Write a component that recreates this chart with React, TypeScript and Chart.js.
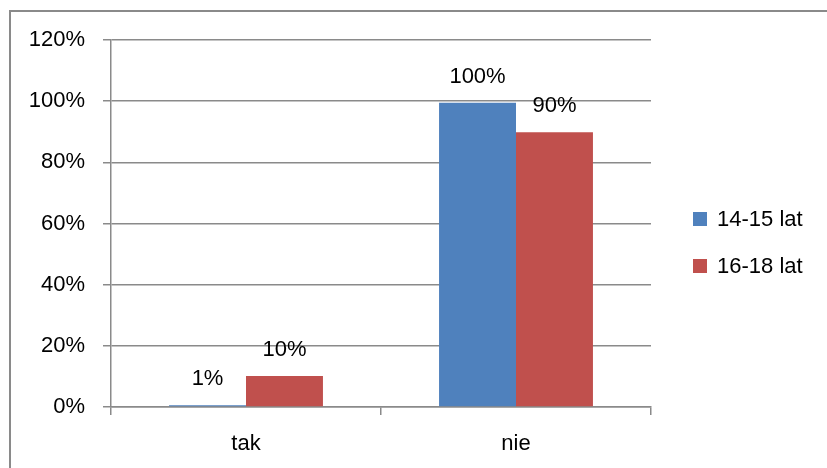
import React, { useEffect, useRef } from "react";
import { Chart, registerables } from "chart.js";

Chart.register(...registerables);

const categories = ["tak", "nie"];
const seriesNames = ["14-15 lat", "16-18 lat"];
const series1 = [0.6, 99.5];
const series2 = [10.1, 89.8];
const labels1 = ["1%", "100%"];
const labels2 = ["10%", "90%"];
const seriesLabels = [labels1, labels2];
const yMax = 120;
const yStep = 20;
const colors = ["#4F81BD", "#C0504D"];

const FONT = "'Liberation Sans', Arial, sans-serif";
const FONT_SIZE = 22;
const GRID = "#8a8a8a";

const framePlugin = {
  id: "frame",
  beforeDraw(chart: any) {
    const { ctx, width, height } = chart;
    ctx.save();
    ctx.fillStyle = "#ffffff";
    ctx.fillRect(0, 0, width, height);
    ctx.strokeStyle = "#8a8a8a";
    ctx.lineWidth = 2;
    ctx.beginPath();
    ctx.moveTo(10, height);
    ctx.lineTo(10, 11);
    ctx.lineTo(width, 11);
    ctx.stroke();
    ctx.restore();
  },
};

const valueLabelPlugin = {
  id: "valueLabels",
  afterDatasetsDraw(chart: any) {
    const { ctx } = chart;
    ctx.save();
    ctx.font = `${FONT_SIZE}px ${FONT}`;
    ctx.fillStyle = "#000";
    ctx.textAlign = "center";
    ctx.textBaseline = "middle";
    chart.data.datasets.forEach((ds: any, i: number) => {
      const meta = chart.getDatasetMeta(i);
      meta.data.forEach((el: any, j: number) => {
        ctx.fillText(seriesLabels[i][j], el.x, el.y - 26);
      });
    });
    ctx.restore();
  },
};

const legendPlugin = {
  id: "customLegend",
  afterDraw(chart: any) {
    const { ctx, chartArea } = chart;
    ctx.save();
    ctx.font = `${FONT_SIZE}px ${FONT}`;
    ctx.textAlign = "left";
    ctx.textBaseline = "middle";
    const boxX = chartArea.right + 42;
    const mid = (chartArea.top + chartArea.bottom) / 2 + 19;
    const gap = 47;
    seriesNames.forEach((name, i) => {
      const cy = mid + (i - 0.5) * gap;
      ctx.fillStyle = colors[i];
      ctx.fillRect(boxX, cy - 7, 14, 14);
      ctx.fillStyle = "#000";
      ctx.fillText(name, boxX + 24, cy + 1);
    });
    ctx.restore();
  },
};

export default function App() {
  const ref = useRef<HTMLCanvasElement | null>(null);

  useEffect(() => {
    if (!ref.current) return;
    const chart = new Chart(ref.current, {
      type: "bar",
      data: {
        labels: categories,
        datasets: [
          {
            label: seriesNames[0],
            data: series1,
            backgroundColor: colors[0],
            categoryPercentage: 0.57,
            barPercentage: 1,
          },
          {
            label: seriesNames[1],
            data: series2,
            backgroundColor: colors[1],
            categoryPercentage: 0.57,
            barPercentage: 1,
          },
        ],
      },
      options: {
        animation: false,
        responsive: false,
        maintainAspectRatio: false,
        layout: { padding: { top: 40, right: 176, left: 0, bottom: 0 } },
        plugins: {
          legend: { display: false },
          tooltip: { enabled: false },
        },
        scales: {
          x: {
            afterFit(scale: any) {
              scale.height = 61;
            },
            grid: {
              offset: true,
              drawOnChartArea: false,
              drawTicks: true,
              tickLength: 8,
              color: GRID,
              lineWidth: 1.5,
            },
            border: { display: true, color: GRID, width: 1.5 },
            ticks: {
              color: "#000",
              padding: 16,
              font: { family: FONT, size: FONT_SIZE },
            },
          },
          y: {
            min: 0,
            max: yMax,
            afterFit(scale: any) {
              scale.width = 111;
            },
            grid: {
              color: GRID,
              lineWidth: 1.5,
              drawTicks: true,
              tickLength: 8,
            },
            border: { display: true, color: GRID, width: 1.5 },
            ticks: {
              stepSize: yStep,
              color: "#000",
              padding: 18,
              font: { family: FONT, size: FONT_SIZE },
              callback: (v: any) => `${v}%`,
            },
          },
        },
      },
      plugins: [framePlugin, valueLabelPlugin, legendPlugin],
    });
    return () => chart.destroy();
  }, []);

  return (
    <div style={{ position: "absolute", left: 0, top: 0, width: 827, height: 468 }}>
      <canvas ref={ref} width={827} height={468} style={{ display: "block" }} />
    </div>
  );
}
